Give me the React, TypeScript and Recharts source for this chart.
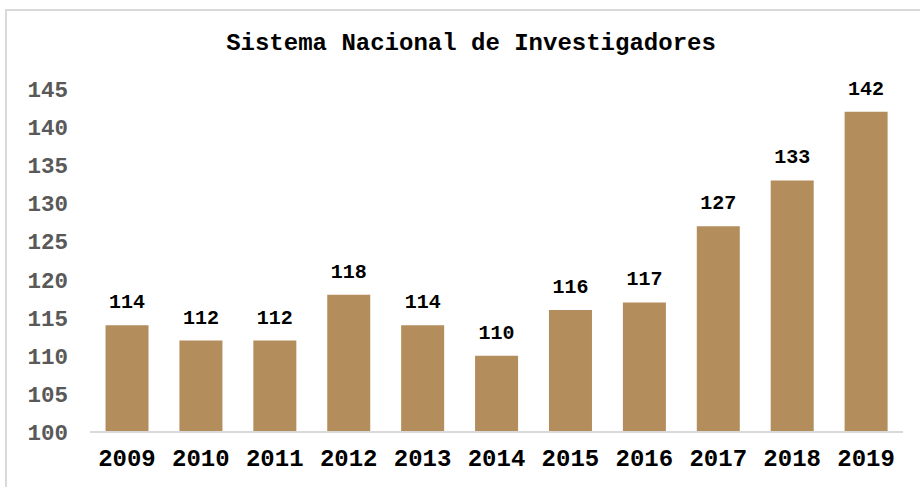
import React from "react";
import { BarChart, Bar, XAxis, YAxis, LabelList } from "recharts";

const years = ["2009", "2010", "2011", "2012", "2013", "2014", "2015", "2016", "2017", "2018", "2019"];
const investigadores = [114, 112, 112, 118, 114, 110, 116, 117, 127, 133, 142];
const yTicks = [100, 105, 110, 115, 120, 125, 130, 135, 140, 145];
const title = "Sistema Nacional de Investigadores";

const data = years.map((y, i) => ({ year: y, value: investigadores[i] }));

const FONT = "'Liberation Mono', 'Courier New', monospace";

export default function App() {
  return (
    <div style={{ position: "absolute", left: 0, top: 0, width: 920, height: 487, background: "#fff", overflow: "hidden" }}>
      <div
        style={{
          position: "absolute",
          left: 5,
          top: 9,
          width: 930,
          height: 500,
          border: "2px solid #d9d9d9",
          boxSizing: "border-box",
        }}
      />
      <div
        style={{
          position: "absolute",
          left: 0,
          width: 942,
          top: 30,
          textAlign: "center",
          fontFamily: FONT,
          fontWeight: "bold",
          fontSize: 24,
          color: "#000",
          lineHeight: "28px",
        }}
      >
        {title}
      </div>
      <div style={{ position: "absolute", left: 0, top: 0 }}>
        <BarChart
          width={920}
          height={487}
          data={data}
          margin={{ top: 89, right: 17, bottom: 0, left: 0 }}
          barCategoryGap="21%"
        >
          <XAxis
            dataKey="year"
            axisLine={{ stroke: "#d9d9d9", strokeWidth: 2 }}
            tickLine={false}
            height={55}
            tickMargin={11}
            tick={{ fontFamily: FONT, fontWeight: "bold", fontSize: 24, fill: "#000" }}
            interval={0}
          />
          <YAxis
            domain={[100, 145]}
            ticks={yTicks}
            axisLine={false}
            tickLine={false}
            width={90}
            tickMargin={16}
            allowDataOverflow
            tick={{ fontFamily: FONT, fontWeight: "bold", fontSize: 22.5, fill: "#595959" }}
          />
          <Bar dataKey="value" fill="#B38D5B" isAnimationActive={false}>
            <LabelList
              dataKey="value"
              position="top"
              offset={17}
              style={{ fontFamily: FONT, fontWeight: "bold", fontSize: 20, fill: "#000" }}
            />
          </Bar>
        </BarChart>
      </div>
    </div>
  );
}
